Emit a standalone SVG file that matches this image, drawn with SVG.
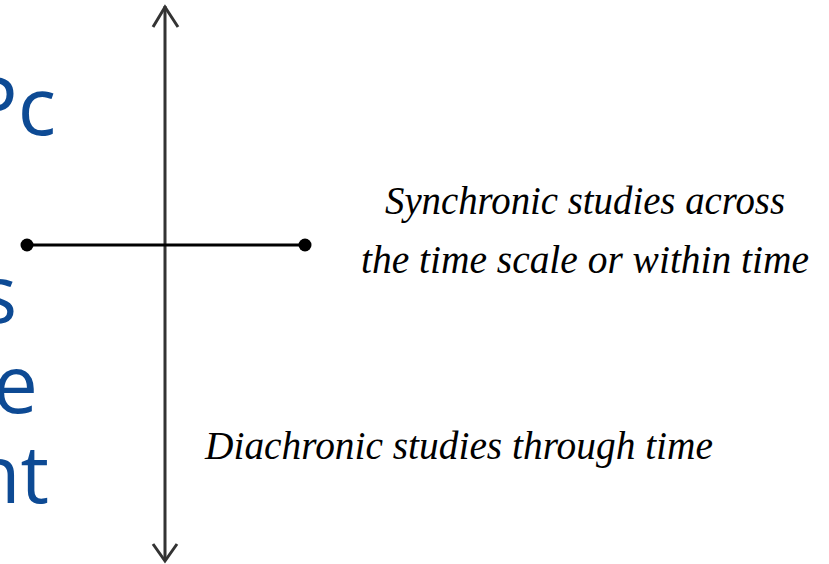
<svg xmlns="http://www.w3.org/2000/svg" width="829" height="564" viewBox="0 0 829 564">
<style>
.blue{font-family:"Open Sans","Noto Sans",sans-serif;font-size:80px;fill:#0d4a94;text-anchor:end}
.lbl{font-family:"Liberation Serif","DejaVu Serif",serif;font-style:italic;font-size:40px;fill:#000}
.ln{stroke:#000;stroke-width:3;fill:none}
.ax{stroke:#333;stroke-width:3;fill:none}
</style>
<rect width="829" height="564" fill="#fff"/>
<g id="bg-text">
<text class="blue" x="56" y="135">Pc</text>
<text class="blue" x="17" y="323">s</text>
<text class="blue" x="38" y="413">e</text>
<text class="blue" x="49" y="503">nt</text>
</g>
<g id="connectors">
<line class="ax" x1="165" y1="6" x2="165" y2="561"/>
<path class="ax" d="M153,27 L165,7 L178,27"/>
<path class="ax" d="M153,544 L165,561 L177,544"/>
<line class="ln" x1="27" y1="245" x2="305" y2="245"/>
</g>
<g id="dot-left"><circle cx="27" cy="245" r="6.5" fill="#000"/></g>
<g id="dot-right"><circle cx="305" cy="245" r="6.5" fill="#000"/></g>
<g id="synchronic">
<text class="lbl" x="385" y="214" textLength="400" lengthAdjust="spacingAndGlyphs">Synchronic studies across</text>
<text class="lbl" x="361" y="273" textLength="448" lengthAdjust="spacingAndGlyphs">the time scale or within time</text>
</g>
<g id="diachronic">
<text class="lbl" x="205" y="459" textLength="508" lengthAdjust="spacingAndGlyphs">Diachronic studies through time</text>
</g>
</svg>
